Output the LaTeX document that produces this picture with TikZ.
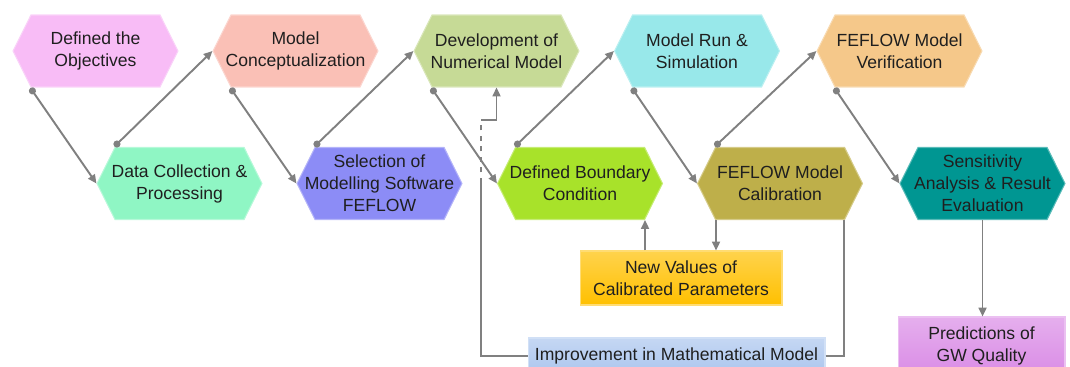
\documentclass[tikz,border=0pt]{standalone}
\usepackage{fontspec}
\setmainfont{Liberation Sans}
\usetikzlibrary{shapes.symbols,arrows.meta,calc}

\definecolor{cObj}{RGB}{248,188,246}
\definecolor{cData}{RGB}{143,246,196}
\definecolor{cKonsep}{RGB}{250,192,182}
\definecolor{cPilih}{RGB}{140,140,246}
\definecolor{cNumerik}{RGB}{198,218,150}
\definecolor{cBatas}{RGB}{168,226,42}
\definecolor{cRun}{RGB}{152,232,234}
\definecolor{cKalib}{RGB}{190,175,74}
\definecolor{cVerif}{RGB}{245,200,138}
\definecolor{cSens}{RGB}{0,150,146}
\definecolor{cNilai}{RGB}{255,192,0}
\definecolor{cPerbaikan}{RGB}{172,198,238}
\definecolor{cPrediksi}{RGB}{218,140,230}
\definecolor{cGaris}{RGB}{128,128,128}

\begin{document}
\begin{tikzpicture}[x=0.02cm, y=-0.02cm,
	every node/.style={font=\fontsize{10}{12.5}\selectfont, text=black!88, align=center},
	hexa/.style={signal, signal to=west and east, signal pointer angle=127,
		minimum width=3.3cm, minimum height=1.44cm, inner xsep=-8pt, inner ysep=1pt,
		fill=#1, draw=#1!65!white, line width=0.6pt},
	kotak/.style={rectangle, inner sep=1pt, top color=#1!70!white, bottom color=#1,
		draw=#1!55!white, line width=0.6pt},
	garis/.style={draw=cGaris, line width=1.1pt},
	panah/.style={garis, {Circle[length=4pt]}-{Triangle[length=5pt,width=4.5pt]}},
	ujung/.style={garis, -{Triangle[length=5pt,width=4.5pt]}}]
	\clip (0,0) rectangle (1070,367);

	% Simpul baris atas
	\node[hexa=cObj] (obj) at (95.5,51) {Defined the\\Objectives};
	\node[hexa=cKonsep] (konsep) at (295.5,51) {Model\\Conceptualization};
	\node[hexa=cNumerik] (numerik) at (496.5,51) {Development of\\Numerical Model};
	\node[hexa=cRun] (run) at (697,51) {Model Run \&\\Simulation};
	\node[hexa=cVerif] (verif) at (899.5,51) {FEFLOW Model\\Verification};

	% Simpul baris bawah
	\node[hexa=cData] (data) at (179.5,183.5) {Data Collection \&\\Processing};
	\node[hexa=cPilih] (pilih) at (379.5,183.5) {Selection of\\Modelling Software\\FEFLOW};
	\node[hexa=cBatas] (batas) at (580,183.5) {Defined Boundary\\Condition};
	\node[hexa=cKalib] (kalib) at (780,183.5) {FEFLOW Model\\Calibration};
	\node[hexa=cSens] (sens) at (982.5,183.5) {Sensitivity\\Analysis \& Result\\Evaluation};

	% Kotak tambahan
	\node[kotak=cNilai, minimum width=4.04cm, minimum height=1.08cm] (nilai) at (681,278) {New Values of\\Calibrated Parameters};
	\node[kotak=cPerbaikan, minimum width=5.94cm, minimum height=0.72cm] (perbaikan) at (676.5,356) {Improvement in Mathematical Model};
	\node[kotak=cPrediksi, minimum width=3.34cm, minimum height=1.16cm] (prediksi) at (981.5,346) {Predictions of\\GW Quality};

	% Titik belok jalur umpan balik
	\coordinate (b1) at (481,183);
	\coordinate (b2) at (481,120);

	% Koneksi antar simpul
	\draw[panah] ($(obj.west)+(18,37)$) -- (data.west);
	\draw[panah] ($(data.west)+(18,-37)$) -- (konsep.west);
	\draw[panah] ($(konsep.west)+(18,37)$) -- (pilih.west);
	\draw[panah] ($(pilih.west)+(18,-37)$) -- (numerik.west);
	\draw[panah] ($(numerik.west)+(18,37)$) -- (batas.west);
	\draw[panah] ($(batas.west)+(18,-37)$) -- (run.west);
	\draw[panah] ($(run.west)+(18,37)$) -- (kalib.west);
	\draw[panah] ($(kalib.west)+(18,-37)$) -- (verif.west);
	\draw[panah] ($(verif.west)+(18,37)$) -- (sens.west);
	\draw[ujung] (sens.south) -- (sens.south |- prediksi.north);

	\draw[ujung] ($(nilai.north)+(-36,0)$) -- ($(batas.south)+(65,0)$);
	\draw[ujung] ($(kalib.south)+(-64,0)$) -- ($(nilai.north)+(35,0)$);
	\draw[garis] (perbaikan.east) -| ($(kalib.south)+(64,0)$);
	\draw[garis] (perbaikan.west) -| (b1);
	\draw[garis, dashed] (b1) -- (b2);
	\draw[ujung] (b2) -| (numerik.south);

\end{tikzpicture}
\end{document}
